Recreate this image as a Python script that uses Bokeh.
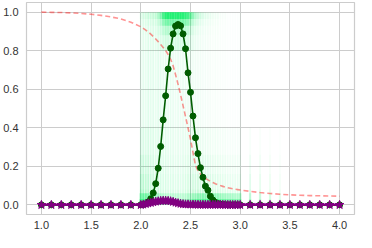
from bokeh.plotting import figure
from bokeh.models import Range1d, FixedTicker, PrintfTickFormatter, ColumnDataSource
from bokeh.embed import file_html
from bokeh.resources import INLINE

# ---- data ----
X = [1.0, 1.1, 1.2, 1.3, 1.4, 1.5, 1.6, 1.7, 1.8, 1.9,
     2.0, 2.025, 2.05, 2.075, 2.1, 2.125, 2.15, 2.175, 2.2, 2.225,
     2.25, 2.275, 2.3, 2.325, 2.35, 2.375, 2.4, 2.425, 2.45, 2.475,
     2.5, 2.525, 2.55, 2.575, 2.6, 2.625, 2.65, 2.675, 2.7, 2.725,
     2.75, 2.775, 2.8, 2.825, 2.85, 2.875, 2.9, 2.925, 2.95, 2.975, 3.0,
     3.1, 3.2, 3.3, 3.4, 3.5, 3.6, 3.7, 3.8, 3.9, 4.0]

mean_green = [0, 0, 0, 0, 0, 0, 0, 0, 0, 0,
              0.000, 0.002, 0.006, 0.015, 0.032, 0.062, 0.110, 0.190, 0.303, 0.441,
              0.566, 0.705, 0.813, 0.887, 0.928, 0.936, 0.929, 0.887, 0.810, 0.685,
              0.584, 0.461, 0.348, 0.266, 0.193, 0.143, 0.097, 0.076, 0.045, 0.025,
              0.013, 0.007, 0.004, 0.002, 0.001, 0.0, 0.0, 0.0, 0.0, 0.0, 0.0,
              0, 0, 0, 0, 0, 0, 0, 0, 0, 0]

mean_purple = [0, 0, 0, 0, 0, 0, 0, 0, 0, 0,
               0.000, 0.002, 0.005, 0.008, 0.011, 0.014, 0.017, 0.019, 0.021, 0.022,
               0.022, 0.021, 0.019, 0.016, 0.012, 0.009, 0.006, 0.004, 0.003, 0.003,
               0.002, 0.002, 0.002, 0.001, 0.001, 0.001, 0.001, 0.001, 0.001, 0.001,
               0.001, 0.001, 0.001, 0.001, 0.0, 0.0, 0.0, 0.0, 0.0, 0.0, 0.0,
               0, 0, 0, 0, 0, 0, 0, 0, 0, 0]

prior = [1.0, 0.999, 0.998, 0.996, 0.993, 0.989, 0.983, 0.975, 0.965, 0.948,
         0.924, 0.916, 0.907, 0.897, 0.886, 0.874, 0.861, 0.847, 0.832, 0.817,
         0.800, 0.780, 0.755, 0.722, 0.675, 0.625, 0.572, 0.515, 0.458, 0.400,
         0.340, 0.272, 0.205, 0.178, 0.160, 0.148, 0.138, 0.130, 0.122, 0.116,
         0.110, 0.105, 0.100, 0.096, 0.092, 0.089, 0.086, 0.083, 0.081, 0.079, 0.077,
         0.070, 0.064, 0.059, 0.055, 0.052, 0.050, 0.048, 0.047, 0.046, 0.045]

# sample-cloud intensities (alpha) on the dense grid 2.0 .. 3.0 and beyond
cloud_x = X[10:61]
haze = [0.07, 0.10, 0.09, 0.12, 0.10, 0.11, 0.09, 0.11, 0.10, 0.09,
        0.10, 0.08, 0.09, 0.08, 0.07, 0.08, 0.07, 0.08, 0.08, 0.07,
        0.08, 0.06, 0.06, 0.05, 0.05, 0.04, 0.045, 0.035, 0.035, 0.025,
        0.03, 0.025, 0.025, 0.02, 0.02, 0.015, 0.015, 0.015, 0.015, 0.015, 0.02,
        0, 0, 0, 0, 0, 0, 0, 0, 0, 0]
low_haze = [0.30, 0.26, 0.22, 0.18, 0.15, 0.12, 0.10, 0.08, 0.07, 0.06,
            0.06, 0.06, 0.06, 0.06, 0.06, 0.06, 0.06, 0.07, 0.09, 0.11,
            0.13, 0.15, 0.17, 0.18, 0.18, 0.18, 0.17, 0.16, 0.15, 0.14,
            0.13, 0.13, 0.12, 0.11, 0.11, 0.10, 0.10, 0.09, 0.09, 0.09, 0.10,
            0.16, 0.12, 0.10, 0.07, 0.0, 0.0, 0.0, 0.0, 0.0, 0.0]
top_cap = [0.05, 0.06, 0.07, 0.08, 0.09, 0.10, 0.14, 0.20, 0.40, 0.70,
           0.95, 1.00, 1.00, 1.00, 1.00, 1.00, 1.00, 0.95, 0.90, 0.75,
           0.55, 0.35, 0.22, 0.15, 0.11, 0.08, 0.06, 0.05, 0.04, 0.03,
           0.02, 0.02, 0.01, 0.01, 0.01, 0.0, 0.0, 0.0, 0.0, 0.0, 0.0,
           0, 0, 0, 0, 0, 0, 0, 0, 0, 0]
bottom_cap = [0.70, 0.80, 0.80, 0.70, 0.60, 0.55, 0.50, 0.45, 0.40, 0.35,
              0.30, 0.30, 0.30, 0.30, 0.30, 0.30, 0.30, 0.30, 0.30, 0.35,
              0.40, 0.50, 0.55, 0.60, 0.65, 0.70, 0.70, 0.70, 0.70, 0.70,
              0.70, 0.65, 0.60, 0.55, 0.55, 0.50, 0.50, 0.50, 0.45, 0.45, 0.50,
              0.25, 0.20, 0.15, 0.10, 0.0, 0.0, 0.0, 0.0, 0.0, 0.0]

x_ticks = [1.0, 1.5, 2.0, 2.5, 3.0, 3.5, 4.0]
y_ticks = [0.0, 0.2, 0.4, 0.6, 0.8, 1.0]

CLOUD = "#00f060"

p = figure(width=356, height=232, output_backend="svg", toolbar_location=None,
           x_range=Range1d(0.85, 4.15), y_range=Range1d(-0.05, 1.05),
           background_fill_color="white", border_fill_color="white")
p.min_border_left = 22
p.min_border_right = 2
p.min_border_top = 2
p.min_border_bottom = 18

# cloud of samples, drawn as soft layered columns
src = ColumnDataSource(dict(
    x=cloud_x, haze=haze,
    low1=[v * 0.30 for v in low_haze], low2=[v * 0.30 for v in low_haze],
    low3=[v * 0.25 for v in low_haze], low4=[v * 0.20 for v in low_haze],
    top1=[v * 0.70 for v in top_cap], top2=[v * 0.35 for v in top_cap],
    top3=[v * 0.15 for v in top_cap], top4=[v * 0.10 for v in top_cap],
    bot1=[v * 0.6 for v in bottom_cap], bot2=[v * 0.5 for v in bottom_cap]))
W = 0.019
p.vbar(x="x", width=W, bottom=0.0, top=1.0, source=src, fill_color=CLOUD,
       fill_alpha="haze", line_color=None)
for top, col in ((0.08, "low1"), (0.16, "low2"), (0.26, "low3"), (0.40, "low4")):
    p.vbar(x="x", width=W, bottom=0.0, top=top, source=src, fill_color=CLOUD,
           fill_alpha=col, line_color=None)
for bot, col in ((0.965, "top1"), (0.93, "top2"), (0.88, "top3"), (0.80, "top4")):
    p.vbar(x="x", width=0.024, bottom=bot, top=1.0, source=src, fill_color=CLOUD,
           fill_alpha=col, line_color=None)
for top, col in ((0.03, "bot1"), (0.06, "bot2")):
    p.vbar(x="x", width=0.024, bottom=0.0, top=top, source=src, fill_color=CLOUD,
           fill_alpha=col, line_color=None)

# prior (dashed)
p.line(X, prior, line_color="red", line_alpha=0.42, line_width=1.6, line_dash="5 3")

# posterior mean (green)
p.line(X, mean_green, line_color="#005c00", line_width=1.6)
p.scatter(X, mean_green, marker="circle", size=6, fill_color="#005c00", line_color="#005c00")

# purple
p.line(X, mean_purple, line_color="#800080", line_width=2.5)
p.scatter(X, mean_purple, marker="star", size=9, fill_color="#800080", line_color="#800080")

# axes styling (seaborn whitegrid look)
p.xaxis.ticker = FixedTicker(ticks=x_ticks)
p.yaxis.ticker = FixedTicker(ticks=y_ticks)
p.xaxis.formatter = PrintfTickFormatter(format="%.1f")
p.yaxis.formatter = PrintfTickFormatter(format="%.1f")
for ax in (p.xaxis, p.yaxis):
    ax.axis_line_color = None
    ax.major_tick_line_color = None
    ax.minor_tick_line_color = None
    ax.major_tick_out = 0
    ax.major_tick_in = 0
    ax.major_label_text_font = "Liberation Sans"
    ax.major_label_text_font_size = "11px"
    ax.major_label_text_color = "#333333"
p.xaxis.major_label_standoff = 6
p.yaxis.major_label_standoff = 8
p.xgrid.ticker = FixedTicker(ticks=x_ticks)
p.ygrid.ticker = FixedTicker(ticks=y_ticks)
p.grid.grid_line_color = "#cccccc"
p.grid.grid_line_width = 1
p.outline_line_color = "#cccccc"
p.outline_line_width = 1.2

open("out.html", "w").write(file_html(p, INLINE))
